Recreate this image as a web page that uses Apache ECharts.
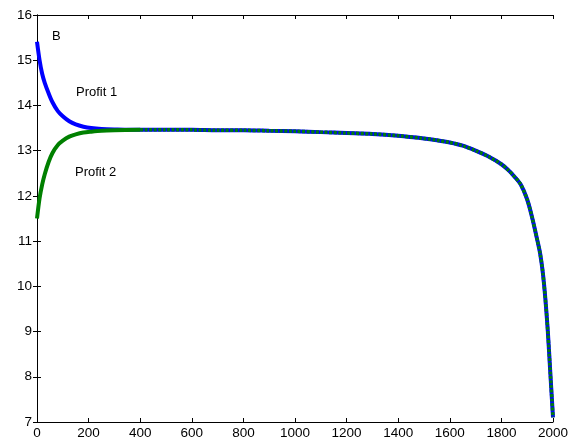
<!DOCTYPE html>
<html>
<head>
<meta charset="utf-8">
<script src="https://cdn.jsdelivr.net/npm/echarts@6/dist/echarts.min.js"></script>
<style>
  html, body { margin: 0; padding: 0; background: #fff; }
  #chart { width: 585px; height: 444px; }
</style>
</head>
<body>
<div id="chart"></div>
<script>
// values
var xStart = [0, 10, 20, 30, 45, 60, 80, 100, 125, 150, 180, 210, 250, 300, 400];
var profit1Start = [15.41, 15.0, 14.70, 14.50, 14.27, 14.07, 13.88, 13.76, 13.65, 13.58, 13.53, 13.50, 13.48, 13.47, 13.46];
var profit2Start = [11.50, 11.95, 12.25, 12.48, 12.75, 12.95, 13.12, 13.22, 13.31, 13.36, 13.40, 13.42, 13.44, 13.45, 13.46];

var xTail = [400, 500, 600, 700, 800, 900, 1000, 1100, 1200, 1300, 1400, 1500, 1550, 1600, 1650, 1700,
  1750, 1800, 1825, 1850, 1875, 1900, 1920, 1940, 1950, 1960, 1970, 1980, 1990, 2000];
var commonTail = [13.46, 13.46, 13.46, 13.45, 13.45, 13.44, 13.43, 13.41, 13.39, 13.37, 13.33, 13.27, 13.23,
  13.18, 13.11, 13.00, 12.87, 12.70, 12.58, 12.43, 12.25, 11.92, 11.50, 11.00, 10.73, 10.33, 9.75, 9.0, 8.05, 7.1];

var xTicks = { min: 0, max: 2000, interval: 200 };
var yTicks = { min: 7, max: 16, interval: 1 };

function pairs(xs, ys) {
  var out = [];
  for (var i = 0; i < xs.length; i++) out.push([xs[i], ys[i]]);
  return out;
}

var profit1 = pairs(xStart, profit1Start).concat(pairs(xTail, commonTail).slice(1));
var profit2Head = pairs(xStart, profit2Start);
var profit2Tail = pairs(xTail, commonTail);

var font = 'Arial, "Liberation Sans", sans-serif';
var axisLine = { show: true, lineStyle: { color: '#000', width: 1 } };
var tickIn = { show: true, inside: true, length: 4, lineStyle: { color: '#000' } };
var plain = function (v) { return String(v); };

var chart = echarts.init(document.getElementById('chart'));
chart.setOption({
  animation: false,
  backgroundColor: '#fff',
  grid: { left: 37, right: 32, top: 15, bottom: 22 },
  xAxis: [
    {
      type: 'value', min: xTicks.min, max: xTicks.max, interval: xTicks.interval,
      axisLine: axisLine, axisTick: tickIn, splitLine: { show: false },
      axisLabel: { color: '#000', fontSize: 13.5, fontFamily: font, margin: 4, formatter: plain }
    },
    {
      type: 'value', position: 'top', min: xTicks.min, max: xTicks.max, interval: xTicks.interval,
      axisLine: axisLine, axisTick: tickIn, splitLine: { show: false }, axisLabel: { show: false }
    }
  ],
  yAxis: [
    {
      type: 'value', min: yTicks.min, max: yTicks.max, interval: yTicks.interval,
      axisLine: axisLine, axisTick: tickIn, splitLine: { show: false },
      axisLabel: { color: '#000', fontSize: 13.5, fontFamily: font, margin: 5, formatter: plain }
    },
    {
      type: 'value', position: 'right', min: yTicks.min, max: yTicks.max, interval: yTicks.interval,
      axisLine: axisLine, axisTick: tickIn, splitLine: { show: false }, axisLabel: { show: false }
    }
  ],
  series: [
    {
      name: 'Profit 1', type: 'line', data: profit1, symbol: 'none', smooth: 0.3,
      lineStyle: { color: '#0000ff', width: 4 }
    },
    {
      name: 'Profit 2', type: 'line', data: profit2Head, symbol: 'none', smooth: 0.3,
      lineStyle: { color: '#008000', width: 4 }
    },
    {
      name: 'Profit 2 tail', type: 'line', data: profit2Tail, symbol: 'none', smooth: 0.3,
      lineStyle: { color: '#007a10', width: 3.5, type: [3, 1.5] }
    }
  ],
  graphic: [
    { type: 'text', left: 52, top: 30, style: { text: 'B', font: '13px ' + font, fill: '#000' } },
    { type: 'text', left: 76, top: 86, style: { text: 'Profit 1', font: '13px ' + font, fill: '#000' } },
    { type: 'text', left: 75, top: 166, style: { text: 'Profit 2', font: '13px ' + font, fill: '#000' } }
  ]
});
</script>
</body>
</html>
